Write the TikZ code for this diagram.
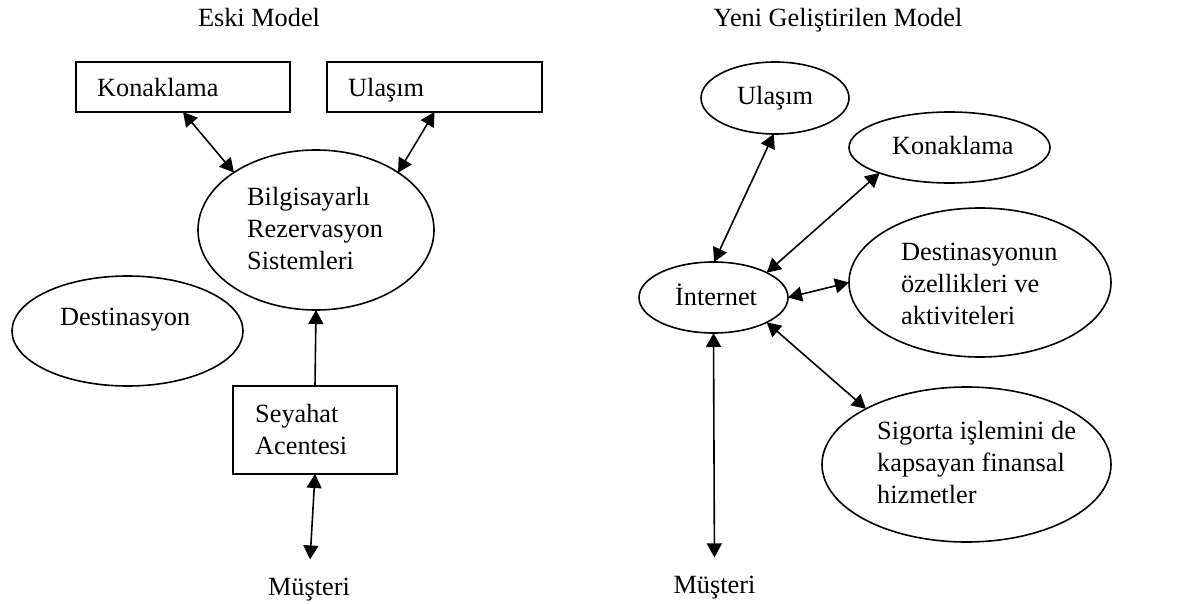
\documentclass[tikz,border=0pt]{standalone}
\usepackage{fontspec}
\setmainfont{Liberation Serif}
\usetikzlibrary{arrows.meta,shapes.geometric}

\tikzset{
  every node/.style={font=\fontsize{26.3}{31.6}\selectfont},
  boxshape/.style={draw, line width=1.8pt, rectangle, inner sep=0pt, outer sep=0pt},
  ovalshape/.style={draw, line width=1.6pt, ellipse, inner sep=0pt, outer sep=0pt},
  % multi-line labels sit on the baseline of their last line
  label/.style={inner sep=0pt, align=left, anchor=base west},
  tip/.style={Triangle[length=14pt,width=15pt]},
  link/.style={line width=1.6pt, {Triangle[length=14pt,width=15pt]}-{Triangle[length=14pt,width=15pt]}},
  uplink/.style={line width=1.6pt, -{Triangle[length=14pt,width=15pt]}},
}

\begin{document}
\begin{tikzpicture}[x=1pt,y=-1pt]
\useasboundingbox (0,0) rectangle (1183,604);

% ---------- old model ----------
\node[inner sep=0pt, anchor=base] (titleA) at (259,27) {Eski Model};

\node[boxshape, minimum width=214pt, minimum height=50pt] (konA) at (183,87) {};
\node[label] (konAt) at (97,97) {Konaklama};
\node[boxshape, minimum width=215pt, minimum height=50pt] (ulaA) at (434.5,87) {};
\node[label] (ulaAt) at (348,97) {Ulaşım};

\node[ovalshape, minimum width=236pt, minimum height=160pt] (crs) at (316,230) {};
\node[label] (crst) at (247,269) {Bilgisayarlı\\Rezervasyon\\Sistemleri};

\node[ovalshape, minimum width=231pt, minimum height=110pt] (desA) at (127.5,331) {};
\node[label] (desAt) at (60,325) {Destinasyon};

\node[boxshape, minimum width=164pt, minimum height=88pt] (agent) at (315,430) {};
\node[label] (agentt) at (255,454) {Seyahat\\Acentesi};

\node[inner sep=0pt, anchor=base] (cusA) at (309,595) {Müşteri};

\draw[link] (konA.south) -- (crs.145);
\draw[link] (ulaA.south) -- (crs.35);
\draw[uplink] (agent.north) -- (crs.south);
\draw[link, shorten >=18pt] (agent.south) -- (cusA.north);

% ---------- new model ----------
\node[inner sep=0pt, anchor=base] (titleB) at (838,27) {Yeni Geliştirilen Model};

\node[ovalshape, minimum width=148pt, minimum height=72pt] (ulaB) at (775,98) {};
\node[label] (ulaBt) at (737,105) {Ulaşım};

\node[ovalshape, minimum width=201pt, minimum height=71pt] (konB) at (949.5,147.5) {};
\node[label] (konBt) at (892,155) {Konaklama};

\node[ovalshape, minimum width=149pt, minimum height=71pt] (net) at (713.5,297.5) {};
\node[label] (nett) at (675,305) {İnternet};

\node[ovalshape, minimum width=262pt, minimum height=149pt] (desB) at (980,282.5) {};
\node[label] (desBt) at (901,324) {Destinasyonun\\özellikleri ve\\aktiviteleri};

\node[ovalshape, minimum width=289pt, minimum height=155pt] (fin) at (966.5,464.5) {};
\node[label] (fint) at (877,503) {Sigorta işlemini de\\kapsayan finansal\\hizmetler};

\node[inner sep=0pt, anchor=base] (cusB) at (714.5,593) {Müşteri};

\draw[link] (ulaB.-92) -- (net.89);
\draw[link] (konB.200) -- (net.25);
\draw[link] (desB.west) -- (net.east);
\draw[link] (fin.151) -- (net.-25);
\draw[link, shorten >=18pt] (net.south) -- (cusB.north);

\end{tikzpicture}
\end{document}
